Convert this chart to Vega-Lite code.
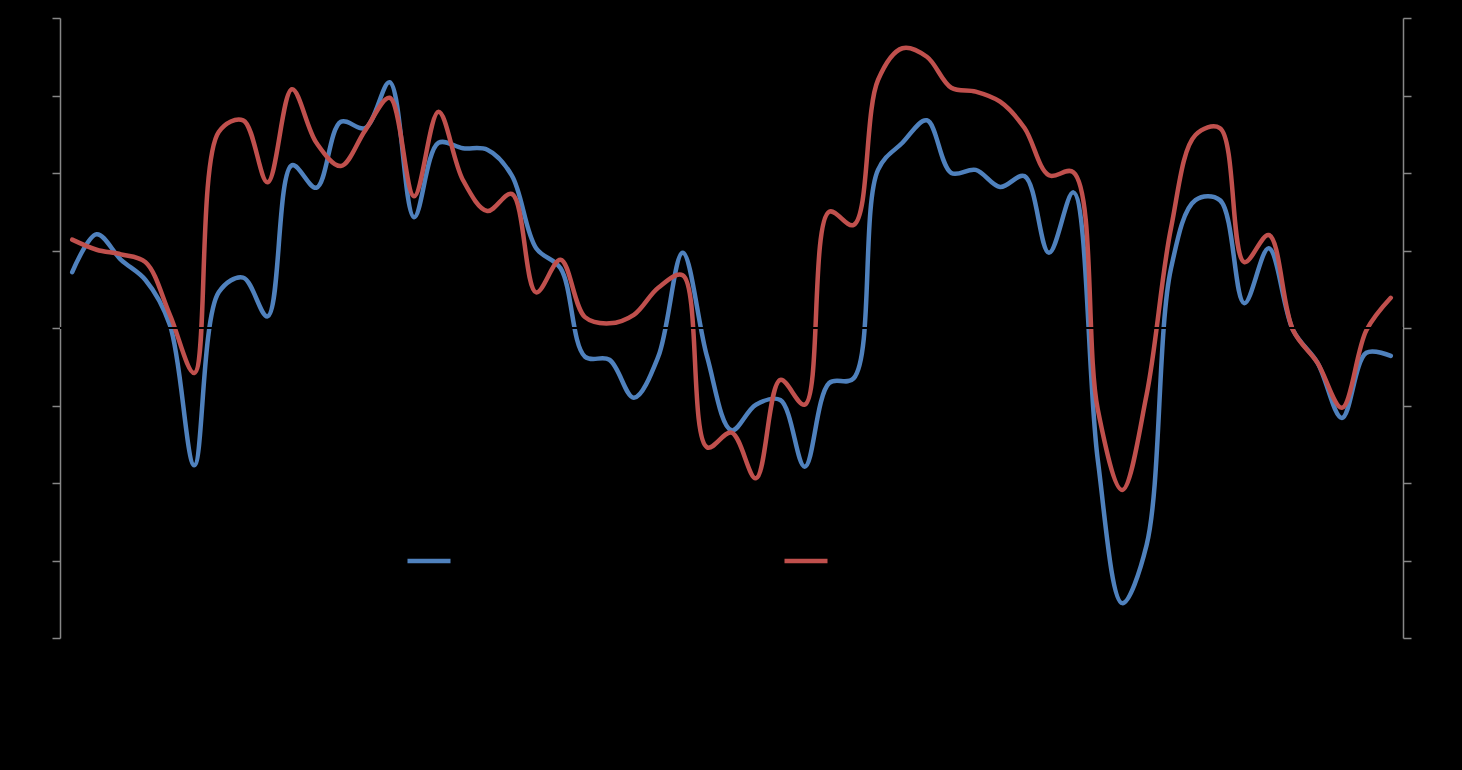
{
  "$schema": "https://vega.github.io/schema/vega-lite/v6.json",
  "width": 1343,
  "height": 620,
  "autosize": {"type": "none"},
  "padding": {"left": 60, "top": 18, "right": 59, "bottom": 132},
  "background": "black",
  "config": {"view": {"stroke": null}},
  "datasets": {
    "series": [
      {"period": 1, "series": "Series 1", "value": 0.72}, {"period": 2, "series": "Series 1", "value": 1.21}, {"period": 3, "series": "Series 1", "value": 0.88}, {"period": 4, "series": "Series 1", "value": 0.62}, {"period": 5, "series": "Series 1", "value": 0.04},
      {"period": 6, "series": "Series 1", "value": -1.77}, {"period": 7, "series": "Series 1", "value": 0.46}, {"period": 8, "series": "Series 1", "value": 0.65}, {"period": 9, "series": "Series 1", "value": 0.15}, {"period": 10, "series": "Series 1", "value": 2.10},
      {"period": 11, "series": "Series 1", "value": 1.81}, {"period": 12, "series": "Series 1", "value": 2.66}, {"period": 13, "series": "Series 1", "value": 2.58}, {"period": 14, "series": "Series 1", "value": 3.17}, {"period": 15, "series": "Series 1", "value": 1.43},
      {"period": 16, "series": "Series 1", "value": 2.39}, {"period": 17, "series": "Series 1", "value": 2.32}, {"period": 18, "series": "Series 1", "value": 2.30}, {"period": 19, "series": "Series 1", "value": 1.97}, {"period": 20, "series": "Series 1", "value": 1.03},
      {"period": 21, "series": "Series 1", "value": 0.77}, {"period": 22, "series": "Series 1", "value": -0.37}, {"period": 23, "series": "Series 1", "value": -0.41}, {"period": 24, "series": "Series 1", "value": -0.90}, {"period": 25, "series": "Series 1", "value": -0.37},
      {"period": 26, "series": "Series 1", "value": 0.97}, {"period": 27, "series": "Series 1", "value": -0.37}, {"period": 28, "series": "Series 1", "value": -1.32}, {"period": 29, "series": "Series 1", "value": -0.99}, {"period": 30, "series": "Series 1", "value": -0.93},
      {"period": 31, "series": "Series 1", "value": -1.79}, {"period": 32, "series": "Series 1", "value": -0.71}, {"period": 33, "series": "Series 1", "value": -0.65}, {"period": 34, "series": "Series 1", "value": 2.04}, {"period": 35, "series": "Series 1", "value": 2.39},
      {"period": 36, "series": "Series 1", "value": 2.68}, {"period": 37, "series": "Series 1", "value": 2.00}, {"period": 38, "series": "Series 1", "value": 2.04}, {"period": 39, "series": "Series 1", "value": 1.82}, {"period": 40, "series": "Series 1", "value": 1.96},
      {"period": 41, "series": "Series 1", "value": 0.97}, {"period": 42, "series": "Series 1", "value": 1.75}, {"period": 43, "series": "Series 1", "value": -1.70}, {"period": 44, "series": "Series 1", "value": -3.55}, {"period": 45, "series": "Series 1", "value": -2.80},
      {"period": 46, "series": "Series 1", "value": 0.77}, {"period": 47, "series": "Series 1", "value": 1.65}, {"period": 48, "series": "Series 1", "value": 1.65}, {"period": 49, "series": "Series 1", "value": 0.32}, {"period": 50, "series": "Series 1", "value": 1.03},
      {"period": 51, "series": "Series 1", "value": -0.03}, {"period": 52, "series": "Series 1", "value": -0.45}, {"period": 53, "series": "Series 1", "value": -1.16}, {"period": 54, "series": "Series 1", "value": -0.32}, {"period": 55, "series": "Series 1", "value": -0.36},
      {"period": 1, "series": "Series 2", "value": 1.14}, {"period": 2, "series": "Series 2", "value": 1.01}, {"period": 3, "series": "Series 2", "value": 0.95}, {"period": 4, "series": "Series 2", "value": 0.85}, {"period": 5, "series": "Series 2", "value": 0.17},
      {"period": 6, "series": "Series 2", "value": -0.58}, {"period": 7, "series": "Series 2", "value": 2.53}, {"period": 8, "series": "Series 2", "value": 2.68}, {"period": 9, "series": "Series 2", "value": 1.88}, {"period": 10, "series": "Series 2", "value": 3.08},
      {"period": 11, "series": "Series 2", "value": 2.39}, {"period": 12, "series": "Series 2", "value": 2.09}, {"period": 13, "series": "Series 2", "value": 2.55}, {"period": 14, "series": "Series 2", "value": 2.97}, {"period": 15, "series": "Series 2", "value": 1.70},
      {"period": 16, "series": "Series 2", "value": 2.79}, {"period": 17, "series": "Series 2", "value": 1.91}, {"period": 18, "series": "Series 2", "value": 1.51}, {"period": 19, "series": "Series 2", "value": 1.73}, {"period": 20, "series": "Series 2", "value": 0.46},
      {"period": 21, "series": "Series 2", "value": 0.88}, {"period": 22, "series": "Series 2", "value": 0.14}, {"period": 23, "series": "Series 2", "value": 0.06}, {"period": 24, "series": "Series 2", "value": 0.17}, {"period": 25, "series": "Series 2", "value": 0.52},
      {"period": 26, "series": "Series 2", "value": 0.68}, {"period": 27, "series": "Series 2", "value": -1.54}, {"period": 28, "series": "Series 2", "value": -1.35}, {"period": 29, "series": "Series 2", "value": -1.94}, {"period": 30, "series": "Series 2", "value": -0.67},
      {"period": 31, "series": "Series 2", "value": -0.99}, {"period": 32, "series": "Series 2", "value": 1.50}, {"period": 33, "series": "Series 2", "value": 1.33}, {"period": 34, "series": "Series 2", "value": 3.20}, {"period": 35, "series": "Series 2", "value": 3.61},
      {"period": 36, "series": "Series 2", "value": 3.50}, {"period": 37, "series": "Series 2", "value": 3.10}, {"period": 38, "series": "Series 2", "value": 3.05}, {"period": 39, "series": "Series 2", "value": 2.92}, {"period": 40, "series": "Series 2", "value": 2.58},
      {"period": 41, "series": "Series 2", "value": 1.97}, {"period": 42, "series": "Series 2", "value": 2.01}, {"period": 43, "series": "Series 2", "value": -1.05}, {"period": 44, "series": "Series 2", "value": -2.09}, {"period": 45, "series": "Series 2", "value": -0.86},
      {"period": 46, "series": "Series 2", "value": 1.29}, {"period": 47, "series": "Series 2", "value": 2.49}, {"period": 48, "series": "Series 2", "value": 2.58}, {"period": 49, "series": "Series 2", "value": 0.85}, {"period": 50, "series": "Series 2", "value": 1.20},
      {"period": 51, "series": "Series 2", "value": -0.03}, {"period": 52, "series": "Series 2", "value": -0.45}, {"period": 53, "series": "Series 2", "value": -1.03}, {"period": 54, "series": "Series 2", "value": -0.03}, {"period": 55, "series": "Series 2", "value": 0.39}
    ]
  },
  "data": {"name": "series"},
  "layer": [
    {
      "mark": {"type": "line", "strokeWidth": 4.5, "interpolate": "catmull-rom", "strokeCap": "round"},
      "encoding": {
        "x": {
          "field": "period", "type": "ordinal",
          "scale": {"type": "point", "padding": 0.5},
          "axis": {"orient": "bottom", "domain": false, "ticks": false, "labelColor": "black", "title": null, "labelAngle": -90}
        },
        "y": {
          "field": "value", "type": "quantitative",
          "scale": {"domain": [-4, 4], "nice": false, "zero": false},
          "axis": {"orient": "left", "values": [-4, -3, -2, -1, 0, 1, 2, 3, 4], "grid": false, "domainColor": "#878787", "domainWidth": 1.5, "tickColor": "#878787", "tickWidth": 1.5, "tickSize": 8, "labelColor": "black", "title": null}
        },
        "color": {
          "field": "series", "type": "nominal",
          "scale": {"domain": ["Series 1", "Series 2"], "range": ["#4F81BD", "#C0504D"]},
          "legend": {
            "orient": "none", "legendX": 345, "legendY": 519, "direction": "horizontal", "title": null,
            "symbolType": "stroke", "symbolStrokeWidth": 4.5, "symbolSize": 1849, "labelColor": "black",
            "labelFontSize": 12, "columnPadding": 272, "labelOffset": 5
          }
        }
      }
    },
    {
      "mark": {"type": "rule", "color": "black", "strokeWidth": 1},
      "encoding": {
        "y": {
          "datum": 0, "type": "quantitative",
          "scale": {"domain": [-4, 4], "nice": false, "zero": false},
          "axis": {"orient": "right", "values": [-4, -3, -2, -1, 0, 1, 2, 3, 4], "grid": false, "domainColor": "#878787", "domainWidth": 1.5, "tickColor": "#878787", "tickWidth": 1.5, "tickSize": 8, "labelColor": "black", "title": null}
        }
      }
    }
  ],
  "resolve": {"scale": {"y": "independent"}}
}
